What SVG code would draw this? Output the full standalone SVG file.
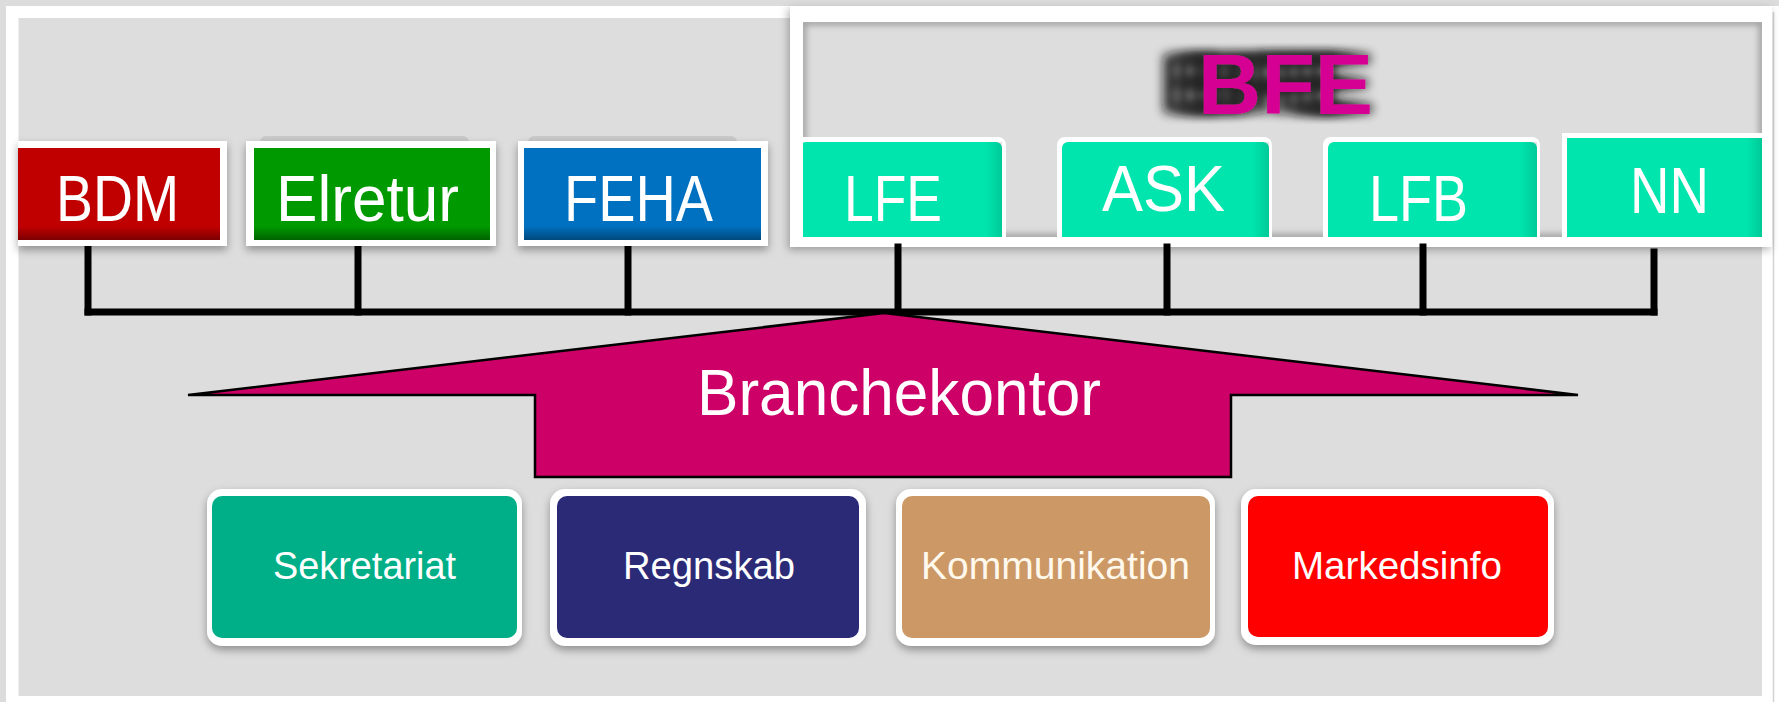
<svg xmlns="http://www.w3.org/2000/svg" width="1779" height="702" viewBox="0 0 1779 702">
<style>
.lbl{font-family:"Liberation Sans",Arial,sans-serif;fill:#fff}
.top{font-size:64px}
.sub{font-size:38px;text-anchor:middle}
.frame{fill:#fff}
.conn{stroke:#000;stroke-width:7;fill:none;stroke-linecap:square}
.teal{fill:#00E5AD}
</style>
<defs>
<filter id="ds" x="-10%" y="-10%" width="120%" height="130%">
<feDropShadow dx="0" dy="4" stdDeviation="4" flood-color="#000" flood-opacity="0.35"/>
</filter>
<filter id="ds2" x="-5%" y="-5%" width="110%" height="115%">
<feDropShadow dx="-2" dy="3" stdDeviation="4" flood-color="#000" flood-opacity="0.3"/>
</filter>
<filter id="blur2"><feGaussianBlur stdDeviation="3"/></filter>
<filter id="bfeshadow" x="-40%" y="-40%" width="160%" height="180%">
<feGaussianBlur in="SourceAlpha" stdDeviation="5.5" result="b"/>
<feOffset in="b" dx="-40" dy="-1" result="o1"/>
<feOffset in="b" dx="-27" dy="-1" result="o2"/>
<feOffset in="b" dx="-13" dy="-1" result="o3"/>
<feOffset in="b" dx="2" dy="-1" result="o4"/>
<feMerge result="m"><feMergeNode in="o1"/><feMergeNode in="o2"/><feMergeNode in="o3"/><feMergeNode in="o4"/></feMerge>
<feComponentTransfer in="m" result="s"><feFuncA type="linear" slope="0.9"/></feComponentTransfer>
<feFlood flood-color="#111"/>
<feComposite in2="s" operator="in" result="sh"/>
<feMerge><feMergeNode in="sh"/><feMergeNode in="SourceGraphic"/></feMerge>
</filter>
<linearGradient id="shade" x1="0" y1="0" x2="0" y2="1">
<stop offset="0.85" stop-color="#000" stop-opacity="0"/>
<stop offset="1" stop-color="#000" stop-opacity="0.35"/>
</linearGradient>
<linearGradient id="shadeR" x1="0" y1="0" x2="1" y2="0">
<stop offset="0.92" stop-color="#000" stop-opacity="0"/>
<stop offset="1" stop-color="#000" stop-opacity="0.12"/>
</linearGradient>
<clipPath id="bfeclip"><rect x="803" y="22" width="959" height="215"/></clipPath>
</defs>

<!-- page -->
<rect x="0" y="0" width="1779" height="702" fill="#DCDCDC"/>
<rect x="6" y="6" width="1773" height="696" fill="#fff"/>
<rect x="18.5" y="18" width="1743.5" height="678" fill="#DDDDDD"/>
<line x1="1773.5" y1="12" x2="1773.5" y2="702" stroke="#D2D2D2" stroke-width="1.5"/>

<!-- BFE group frame -->
<g id="bfe">
<rect x="790" y="6" width="982" height="241" class="frame" filter="url(#ds2)"/>
<rect x="803" y="22" width="959" height="215" fill="#DDDDDD"/>
<rect x="803" y="22" width="959" height="215" fill="none" stroke="#9A9A9A" stroke-width="6" filter="url(#blur2)" clip-path="url(#bfeclip)"/>
<text x="1198" y="114" font-family="'Liberation Sans',Arial,sans-serif" font-weight="bold" font-size="85" textLength="175" lengthAdjust="spacingAndGlyphs" fill="#D50093" filter="url(#bfeshadow)">BFE</text>
</g>

<!-- connectors -->
<g id="connectors">
<path class="conn" d="M88 238V312"/>
<path class="conn" d="M358 247V312"/>
<path class="conn" d="M628 247V312"/>
<path class="conn" d="M898 247V312"/>
<path class="conn" d="M1167 247V312"/>
<path class="conn" d="M1423 247V312"/>
<path class="conn" d="M1654 252V312"/>
<path class="conn" d="M88 312H1654"/>
</g>

<!-- top boxes -->
<g id="bdm">
<rect x="18" y="141" width="209" height="105" class="frame" filter="url(#ds)"/>
<rect x="18" y="148" width="202" height="92" fill="#C00000"/>
<rect x="18" y="148" width="202" height="92" fill="url(#shade)"/>
<text class="lbl top" x="56" y="221" textLength="123" lengthAdjust="spacingAndGlyphs">BDM</text>
</g>
<g id="elretur">
<rect x="260" y="136" width="209" height="14" rx="6" fill="#C9C9C9"/>
<rect x="246" y="141" width="250" height="105" class="frame" filter="url(#ds)"/>
<rect x="254" y="148" width="236" height="92" fill="#009900"/>
<rect x="254" y="148" width="236" height="92" fill="url(#shade)"/>
<text class="lbl top" x="276" y="221" textLength="183" lengthAdjust="spacingAndGlyphs">Elretur</text>
</g>
<g id="feha">
<rect x="528" y="136" width="209" height="14" rx="6" fill="#C9C9C9"/>
<rect x="518" y="141" width="250" height="105" class="frame" filter="url(#ds)"/>
<rect x="524" y="148" width="237" height="92" fill="#0070C0"/>
<rect x="524" y="148" width="237" height="92" fill="url(#shade)"/>
<text class="lbl top" x="564" y="221" textLength="149" lengthAdjust="spacingAndGlyphs">FEHA</text>
</g>

<!-- BFE member boxes -->
<g clip-path="url(#bfeclip)">
<g id="lfe">
<rect x="796" y="137" width="210" height="110" rx="8" class="frame"/>
<rect x="800" y="142" width="202" height="100" rx="6" class="teal"/>
<rect x="800" y="142" width="202" height="95" fill="url(#shadeR)"/>
<text class="lbl top" x="844" y="221" textLength="98" lengthAdjust="spacingAndGlyphs">LFE</text>
</g>
<g id="ask">
<rect x="1057" y="137" width="215" height="110" rx="8" class="frame"/>
<rect x="1062" y="142" width="207" height="100" rx="6" class="teal"/>
<rect x="1062" y="142" width="207" height="95" fill="url(#shadeR)"/>
<text class="lbl top" x="1102" y="211" textLength="123" lengthAdjust="spacingAndGlyphs">ASK</text>
</g>
<g id="lfb">
<rect x="1323" y="137" width="217" height="110" rx="8" class="frame"/>
<rect x="1328" y="142" width="209" height="100" rx="6" class="teal"/>
<rect x="1328" y="142" width="209" height="95" fill="url(#shadeR)"/>
<text class="lbl top" x="1369" y="221" textLength="99" lengthAdjust="spacingAndGlyphs">LFB</text>
</g>
<g id="nn">
<rect x="1562" y="133" width="205" height="114" class="frame"/>
<rect x="1567" y="138" width="200" height="104" class="teal"/>
<rect x="1567" y="138" width="195" height="99" fill="url(#shadeR)"/>
<text class="lbl top" x="1630" y="213" textLength="79" lengthAdjust="spacingAndGlyphs">NN</text>
</g>
</g>

<!-- Branchekontor arrow -->
<g id="branchekontor">
<polygon points="884,313 1578,395 1231,395 1231,477 535,477 535,395 188,395" fill="#CC0066" stroke="#000" stroke-width="2.5" stroke-linejoin="miter"/>
<text class="lbl" x="899" y="415" font-size="64" text-anchor="middle" textLength="404" lengthAdjust="spacingAndGlyphs">Branchekontor</text>
</g>

<!-- bottom boxes -->
<g id="sekretariat">
<rect x="207" y="489" width="315" height="157" rx="15" class="frame" filter="url(#ds)"/>
<rect x="212" y="496" width="305" height="142" rx="10" fill="#00AF87"/>
<text class="lbl sub" x="364.5" y="579" textLength="183" lengthAdjust="spacingAndGlyphs">Sekretariat</text>
</g>
<g id="regnskab">
<rect x="550" y="489" width="316" height="157" rx="15" class="frame" filter="url(#ds)"/>
<rect x="557" y="496" width="302" height="142" rx="10" fill="#2B2A77"/>
<text class="lbl sub" x="709" y="579" textLength="172" lengthAdjust="spacingAndGlyphs">Regnskab</text>
</g>
<g id="kommunikation">
<rect x="896" y="489" width="319" height="157" rx="15" class="frame" filter="url(#ds)"/>
<rect x="902" y="496" width="308" height="142" rx="10" fill="#CC9966"/>
<text class="lbl sub" x="1055.5" y="579" textLength="269" lengthAdjust="spacingAndGlyphs" style="fill:#FFF8EC">Kommunikation</text>
</g>
<g id="markedsinfo">
<rect x="1241" y="489" width="313" height="156" rx="15" class="frame" filter="url(#ds)"/>
<rect x="1248" y="496" width="300" height="141" rx="10" fill="#FF0000"/>
<text class="lbl sub" x="1397" y="579" textLength="210" lengthAdjust="spacingAndGlyphs">Markedsinfo</text>
</g>
</svg>
